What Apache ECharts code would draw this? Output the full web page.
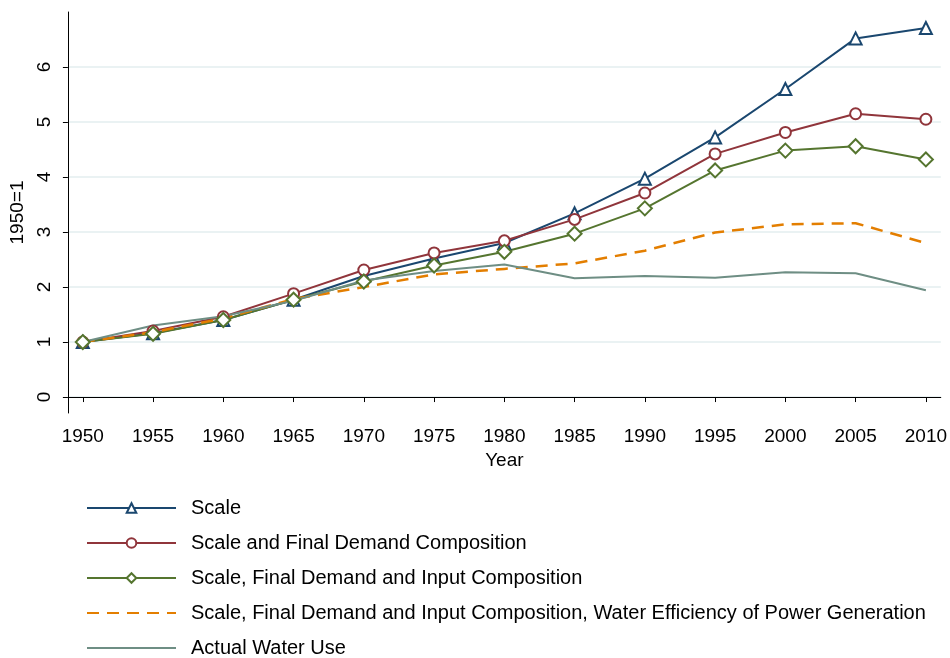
<!DOCTYPE html>
<html>
<head>
<meta charset="utf-8">
<script src="https://cdn.jsdelivr.net/npm/echarts@6/dist/echarts.min.js"></script>
<style>
  html, body { margin: 0; padding: 0; background: #fff; }
  #chart { width: 950px; height: 658px; }
</style>
</head>
<body>
<div id="chart"></div>
<script>
  // years on the x axis
  var years = [1950, 1955, 1960, 1965, 1970, 1975, 1980, 1985, 1990, 1995, 2000, 2005, 2010];
  var xTicks = [1950, 1955, 1960, 1965, 1970, 1975, 1980, 1985, 1990, 1995, 2000, 2005, 2010];
  var yTicks = [0, 1, 2, 3, 4, 5, 6];

  var scale = [1.0, 1.16, 1.4, 1.77, 2.2, 2.52, 2.8, 3.34, 3.97, 4.72, 5.6, 6.52, 6.71];
  var scaleFinal = [1.0, 1.2, 1.46, 1.88, 2.31, 2.62, 2.84, 3.23, 3.71, 4.42, 4.81, 5.15, 5.05];
  var scaleFinalInput = [1.0, 1.15, 1.4, 1.77, 2.1, 2.39, 2.64, 2.97, 3.43, 4.12, 4.48, 4.56, 4.32];
  var scaleFinalInputWater = [1.0, 1.18, 1.43, 1.78, 2.0, 2.23, 2.33, 2.43, 2.66, 2.99, 3.14, 3.16, 2.8];
  var actualUse = [1.0, 1.3, 1.47, 1.75, 2.12, 2.29, 2.41, 2.16, 2.2, 2.17, 2.27, 2.25, 1.94];

  var names = [
    'Scale',
    'Scale and Final Demand Composition',
    'Scale, Final Demand and Input Composition',
    'Scale, Final Demand and Input Composition, Water Efficiency of Power Generation',
    'Actual Water Use'
  ];

  function pairs(vals) {
    return years.map(function (y, i) { return [y, vals[i]]; });
  }

  var font = 'Liberation Sans, Arial, Helvetica, sans-serif';

  var option = {
    animation: false,
    textStyle: { fontFamily: font },
    grid: { left: 67, right: 7, top: 12, bottom: 245 },
    xAxis: {
      type: 'value',
      min: 1948.94,
      max: 2011.06,
      name: 'Year',
      nameLocation: 'middle',
      nameGap: 37,
      nameTextStyle: { color: '#000', fontSize: 19, fontFamily: font },
      axisLine: { lineStyle: { color: '#000', width: 1 } },
      axisTick: { show: true, length: 5, lineStyle: { color: '#000' }, customValues: xTicks },
      axisLabel: {
        color: '#000', fontSize: 19, margin: 14, customValues: xTicks, fontFamily: font,
        formatter: function (v) { return String(v); }
      },
      splitLine: { show: false }
    },
    yAxis: {
      type: 'value',
      min: -0.29,
      max: 7,
      name: '1950=1',
      nameLocation: 'middle',
      nameGap: 37,
      nameTextStyle: { color: '#000', fontSize: 19, fontFamily: font },
      axisLine: { show: true, lineStyle: { color: '#000', width: 1 } },
      axisTick: { show: true, length: 5, lineStyle: { color: '#000' }, customValues: yTicks },
      axisLabel: { color: '#000', fontSize: 19, rotate: 90, margin: 14, customValues: yTicks, fontFamily: font },
      splitLine: { show: true, lineStyle: { color: '#eaf2f3', width: 2 } }
    },
    legend: {
      orient: 'vertical',
      left: 86,
      top: 498,
      padding: 0,
      height: 170,
      itemWidth: 89,
      itemHeight: 12,
      itemGap: 15,
      textStyle: { color: '#000', fontSize: 20, fontFamily: font, padding: [0, 0, 0, 10] },
      data: [
        { name: names[0] },
        { name: names[1] },
        { name: names[2] },
        { name: names[3], itemStyle: { opacity: 0 } },
        { name: names[4], itemStyle: { opacity: 0 } }
      ]
    },
    series: [
      {
        name: names[0], type: 'line', data: pairs(scale),
        symbol: 'emptyTriangle', symbolSize: 12,
        lineStyle: { color: '#1a476f', width: 2 },
        itemStyle: { color: '#1a476f', borderWidth: 2 }
      },
      {
        name: names[1], type: 'line', data: pairs(scaleFinal),
        symbol: 'emptyCircle', symbolSize: 11,
        lineStyle: { color: '#90353b', width: 2 },
        itemStyle: { color: '#90353b', borderWidth: 2 }
      },
      {
        name: names[2], type: 'line', data: pairs(scaleFinalInput),
        symbol: 'emptyDiamond', symbolSize: 14,
        lineStyle: { color: '#55752f', width: 2 },
        itemStyle: { color: '#55752f', borderWidth: 2 }
      },
      {
        name: names[3], type: 'line', data: pairs(scaleFinalInputWater),
        symbol: 'none',
        lineStyle: { color: '#e37e00', width: 2.5, type: [12, 8] },
        itemStyle: { color: '#e37e00' }
      },
      {
        name: names[4], type: 'line', data: pairs(actualUse),
        symbol: 'none',
        lineStyle: { color: '#6e8e84', width: 2 },
        itemStyle: { color: '#6e8e84' }
      }
    ]
  };

  var chart = echarts.init(document.getElementById('chart'));
  chart.setOption(option);
</script>
</body>
</html>
